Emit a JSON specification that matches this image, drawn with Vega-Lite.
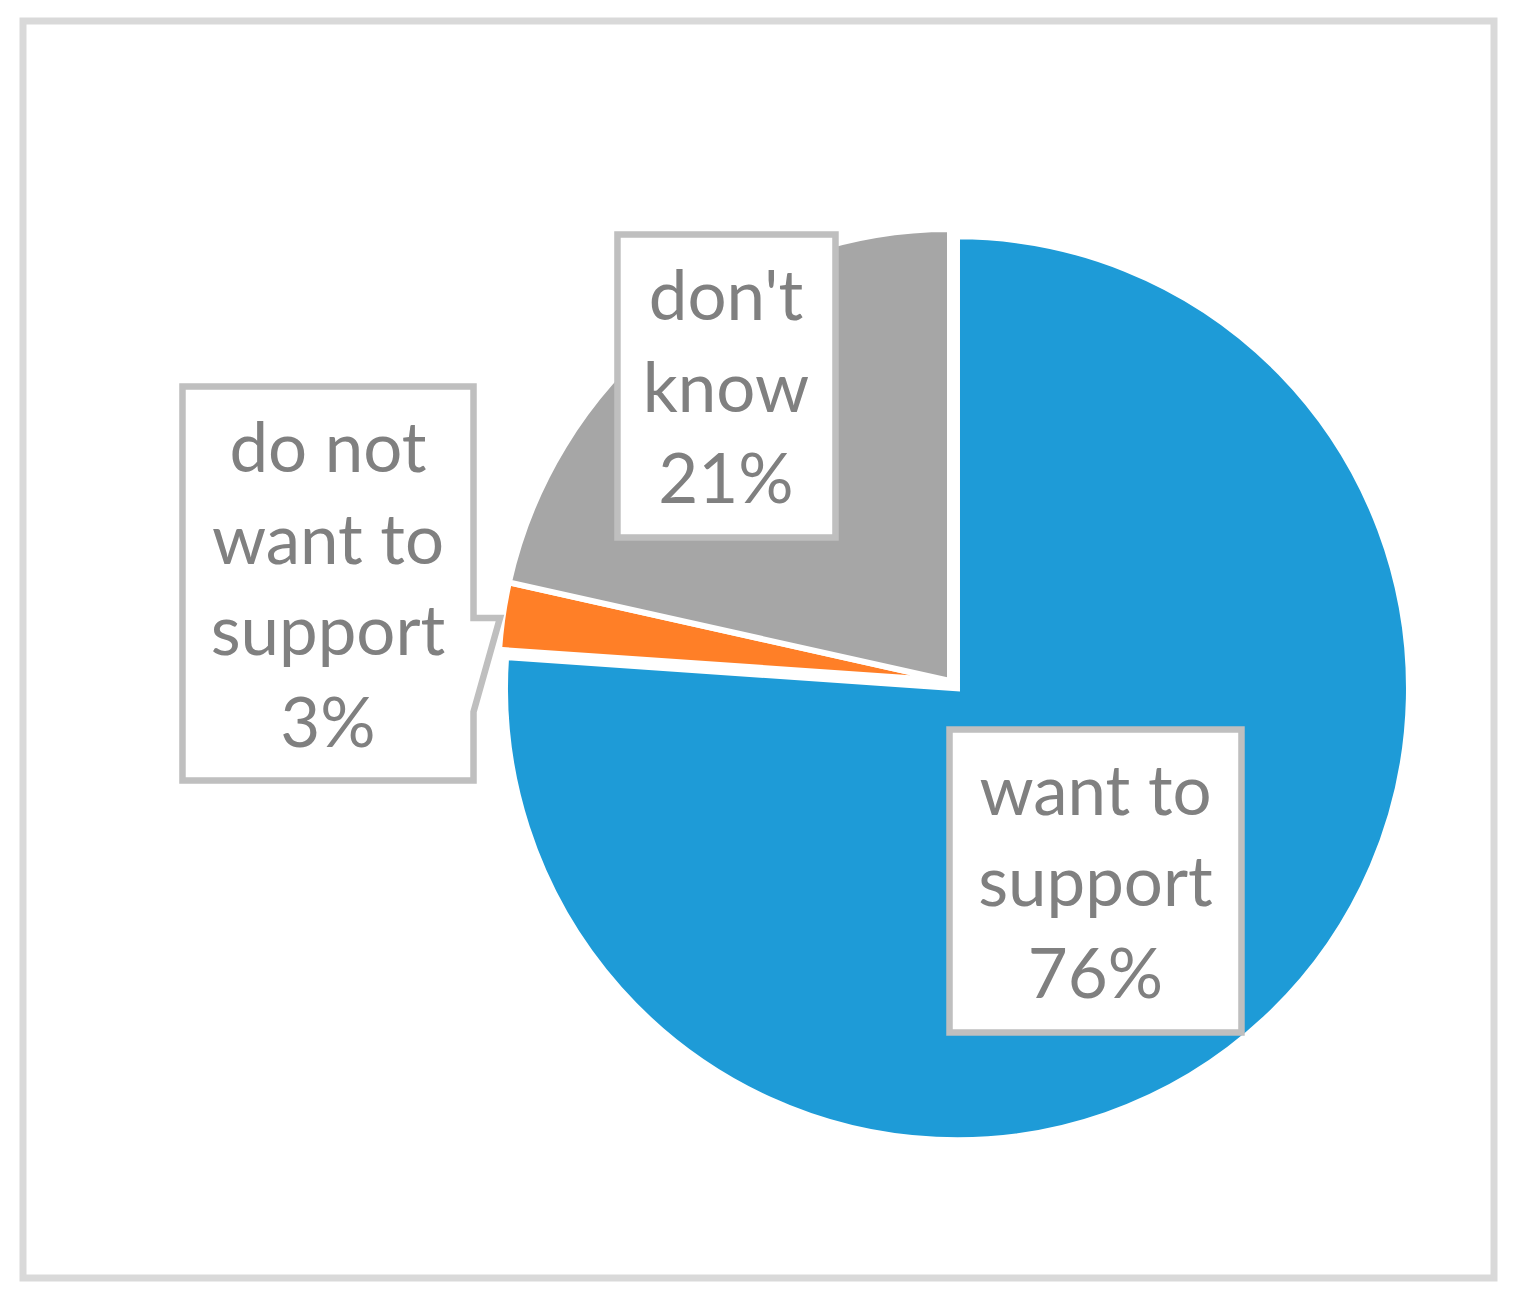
{
  "$schema": "https://vega.github.io/schema/vega-lite/v6.json",
  "width": 1471,
  "height": 1257,
  "padding": {"left": 23, "top": 21, "right": 26, "bottom": 28},
  "autosize": {"type": "none"},
  "background": "white",
  "config": {"view": {"stroke": "#D9D9D9", "strokeWidth": 7}},
  "datasets": {
    "slices": [
      {"category": "want to support", "pct": 76.1, "order": 1},
      {"category": "do not want to support", "pct": 2.4, "order": 2},
      {"category": "don't know", "pct": 21.5, "order": 3}
    ],
    "boxes": [
      {"category": "don't know", "x0": -0.7373, "x1": -0.2539, "y0": 0.3182, "y1": 0.99, "tx": -0.4967, "ty": 0.8004, "lines": ["don't", "know", "21%"]},
      {"category": "want to support", "x0": -0.0011, "x1": 0.6463, "y0": -0.7794, "y1": -0.1075, "tx": 0.3226, "ty": -0.2971, "lines": ["want to", "support", "76%"]},
      {"category": "do not want to support", "tx": -1.3792, "ty": 0.4634, "lines": ["do not", "want to", "support", "3%"]}
    ],
    "callout": [
      {"i": 1, "x": -1.7018, "y": 0.653},
      {"i": 2, "x": -1.0565, "y": 0.653},
      {"i": 3, "x": -1.0565, "y": 0.1397},
      {"i": 4, "x": -0.9978, "y": 0.1397},
      {"i": 5, "x": -1.0565, "y": -0.0687},
      {"i": 6, "x": -1.0565, "y": -0.2206},
      {"i": 7, "x": -1.7018, "y": -0.2206},
      {"i": 8, "x": -1.7018, "y": 0.653}
    ]
  },
  "layer": [
    {
      "data": {"name": "slices"},
      "transform": [
        {"stack": "pct", "groupby": [], "sort": [{"field": "order"}], "as": ["p0", "p1"]},
        {"filter": "datum.category !== 'want to support'"}
      ],
      "mark": {"type": "arc", "outerRadius": 452, "stroke": "white", "strokeWidth": 6},
      "encoding": {
        "theta": {"field": "p0", "type": "quantitative", "scale": {"domain": [0, 100]}},
        "theta2": {"field": "p1"},
        "x": {"datum": 0, "type": "quantitative", "scale": {"domain": [-2.0554, 1.2062], "nice": false, "zero": false}, "axis": null},
        "y": {"datum": 0, "type": "quantitative", "scale": {"domain": [-1.3237, 1.4634], "nice": false, "zero": false}, "axis": null},
        "color": {"field": "category", "type": "nominal", "scale": {"domain": ["want to support", "do not want to support", "don't know"], "range": ["#1E9BD7", "#FF7F27", "#A6A6A6"]}, "legend": null}
      }
    },
    {
      "data": {"name": "slices"},
      "transform": [
        {"stack": "pct", "groupby": [], "sort": [{"field": "order"}], "as": ["p0", "p1"]},
        {"filter": "datum.category === 'want to support'"}
      ],
      "mark": {"type": "arc", "outerRadius": 452, "stroke": "white", "strokeWidth": 6},
      "encoding": {
        "theta": {"field": "p0", "type": "quantitative", "scale": {"domain": [0, 100]}},
        "theta2": {"field": "p1"},
        "x": {"datum": 0.0155, "type": "quantitative", "scale": {"domain": [-2.0554, 1.2062], "nice": false, "zero": false}, "axis": null},
        "y": {"datum": -0.0162, "type": "quantitative", "scale": {"domain": [-1.3237, 1.4634], "nice": false, "zero": false}, "axis": null},
        "color": {"field": "category", "type": "nominal", "legend": null}
      }
    },
    {
      "data": {"name": "boxes"},
      "transform": [{"filter": "isValid(datum.x0)"}],
      "mark": {"type": "rect", "fill": "white", "stroke": "#BFBFBF", "strokeWidth": 6.5},
      "encoding": {
        "x": {"field": "x0", "type": "quantitative", "scale": {"domain": [-2.0554, 1.2062], "nice": false, "zero": false}, "axis": null},
        "x2": {"field": "x1"},
        "y": {"field": "y0", "type": "quantitative", "scale": {"domain": [-1.3237, 1.4634], "nice": false, "zero": false}, "axis": null},
        "y2": {"field": "y1"}
      }
    },
    {
      "data": {"name": "callout"},
      "mark": {"type": "line", "stroke": "#BFBFBF", "strokeWidth": 6.5, "strokeJoin": "miter", "strokeCap": "square"},
      "encoding": {
        "x": {"field": "x", "type": "quantitative", "scale": {"domain": [-2.0554, 1.2062], "nice": false, "zero": false}, "axis": null},
        "y": {"field": "y", "type": "quantitative", "scale": {"domain": [-1.3237, 1.4634], "nice": false, "zero": false}, "axis": null},
        "order": {"field": "i", "type": "quantitative"}
      }
    },
    {
      "data": {"name": "boxes"},
      "mark": {"type": "text", "font": "Lato", "fontSize": 69, "color": "#808080", "align": "center", "baseline": "alphabetic", "lineHeight": 91.5},
      "encoding": {
        "x": {"field": "tx", "type": "quantitative", "scale": {"domain": [-2.0554, 1.2062], "nice": false, "zero": false}, "axis": null},
        "y": {"field": "ty", "type": "quantitative", "scale": {"domain": [-1.3237, 1.4634], "nice": false, "zero": false}, "axis": null},
        "text": {"field": "lines"}
      }
    }
  ]
}
